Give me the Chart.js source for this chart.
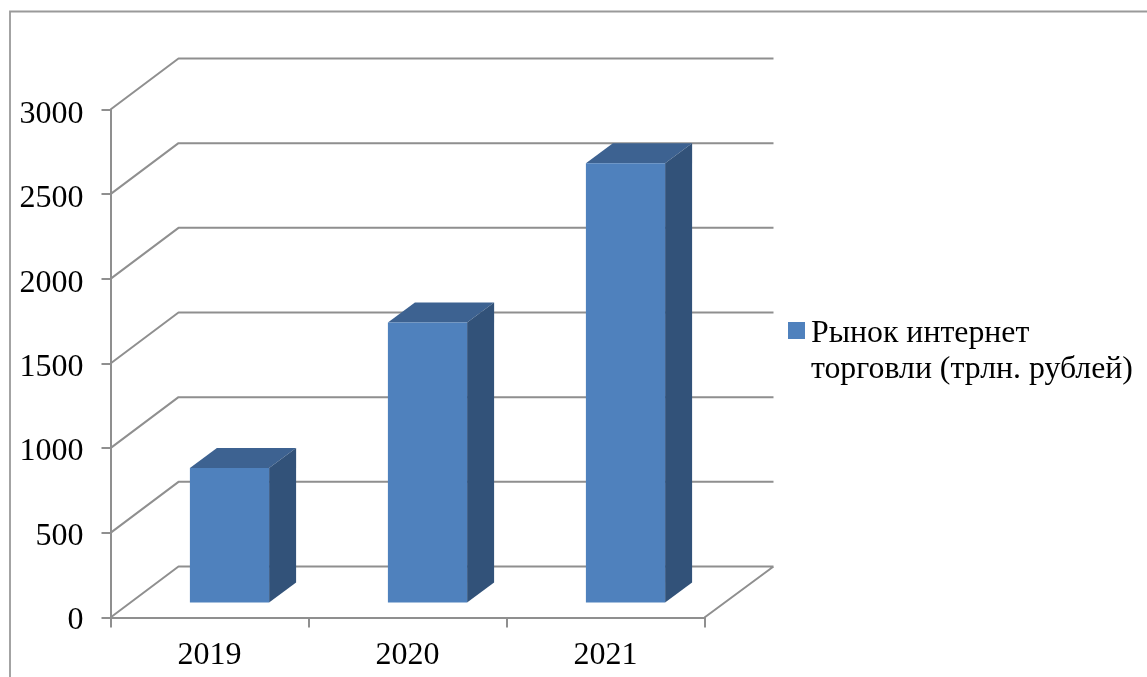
<!DOCTYPE html>
<html>
<head>
<meta charset="utf-8">
<style>
html,body{margin:0;padding:0;background:#fff;overflow:hidden}
#wrap{position:absolute;left:0;top:0;width:1147px;height:677px}
</style>
<script src="https://cdn.jsdelivr.net/npm/chart.js@4"></script>
</head>
<body>
<div id="wrap"><canvas id="c" width="1147" height="677"></canvas></div>
<script>
const categories = ['2019', '2020', '2021'];
const marketValues = [800, 1660, 2600];
const seriesName = 'Рынок интернет торговли (трлн. рублей)';
const legendLines = ['Рынок интернет', 'торговли (трлн. рублей)'];
const yMax = 3000;
const yStep = 500;

const FONT = '"Liberation Serif","Times New Roman",serif';
const GRID = '#8f8f8f';
const FRONT = '#4f81bd', SIDE = '#325279', TOP = '#3d6291';
const WALL_DX = 68, WALL_DY = 51;
const BAR_SHIFT_X = 20, BAR_SHIFT_Y = 14;
const DEPTH_X = 27, DEPTH_Y = 20;

const scene3d = {
  id: 'scene3d',
  beforeDraw(chart) {
    const c = chart.ctx;
    c.save();
    c.strokeStyle = '#9a9a9a';
    c.lineWidth = 1.8;
    c.beginPath();
    c.moveTo(10, 677); c.lineTo(10, 11.5); c.lineTo(1147, 11.5);
    c.stroke();
    c.restore();
    const y = chart.scales.y;
    y.getLabelItems().forEach((i, n) => {
      i.options.translation[1] += 3 + 2 * y.ticks[n].value / yMax;
    });
  },
  beforeDatasetsDraw(chart) {
    const c = chart.ctx, a = chart.chartArea, y = chart.scales.y;
    c.save();
    c.strokeStyle = GRID;
    c.lineWidth = 2;
    c.lineJoin = 'round';
    c.beginPath();
    y.ticks.forEach(t => {
      const py = y.getPixelForValue(t.value);
      c.moveTo(a.left, py);
      c.lineTo(a.left + WALL_DX, py - WALL_DY);
      c.lineTo(a.right + WALL_DX + 1, py - WALL_DY);
    });
    c.moveTo(a.right + WALL_DX + 1, a.bottom - WALL_DY);
    c.lineTo(a.right, a.bottom);
    c.stroke();
    c.restore();
  },
  beforeDatasetDraw(chart, args) {
    const c = chart.ctx;
    c.save();
    c.translate(BAR_SHIFT_X, -BAR_SHIFT_Y);
    args.meta.data.forEach(el => {
      const p = el.getProps(['x', 'y', 'base', 'width'], true);
      const l = p.x - p.width / 2, r = p.x + p.width / 2;
      c.fillStyle = TOP;
      c.beginPath();
      c.moveTo(l, p.y);
      c.lineTo(l + DEPTH_X, p.y - DEPTH_Y);
      c.lineTo(r + DEPTH_X, p.y - DEPTH_Y);
      c.lineTo(r, p.y);
      c.closePath();
      c.fill();
      c.fillStyle = SIDE;
      c.beginPath();
      c.moveTo(r, p.y);
      c.lineTo(r + DEPTH_X, p.y - DEPTH_Y);
      c.lineTo(r + DEPTH_X, p.base - DEPTH_Y);
      c.lineTo(r, p.base);
      c.closePath();
      c.fill();
    });
  },
  afterDatasetDraw(chart) {
    chart.ctx.restore();
  },
  afterDraw(chart) {
    const c = chart.ctx;
    c.save();
    c.fillStyle = FRONT;
    c.fillRect(788, 322, 17, 17);
    c.fillStyle = '#000';
    c.font = '31.8px ' + FONT;
    c.textBaseline = 'alphabetic';
    legendLines.forEach((s, i) => c.fillText(s, 811, 342 + i * 35.5));
    c.restore();
  }
};

new Chart(document.getElementById('c'), {
  type: 'bar',
  data: {
    labels: categories,
    datasets: [{
      label: seriesName,
      data: marketValues,
      backgroundColor: FRONT,
      borderWidth: 0,
      barPercentage: 0.4,
      categoryPercentage: 1,
      clip: false
    }]
  },
  options: {
    responsive: false,
    animation: false,
    devicePixelRatio: 1,
    layout: { padding: { top: 109.5, right: 442.5, left: 0, bottom: 0 } },
    plugins: { legend: { display: false }, tooltip: { enabled: false }, title: { display: false } },
    scales: {
      x: {
        afterFit(s) { s.height = 59.5; },
        grid: { drawOnChartArea: false, drawTicks: true, tickLength: 10, color: GRID, lineWidth: 2, offset: true },
        border: { color: GRID, width: 2 },
        ticks: { color: '#000', font: { family: FONT, size: 32 }, padding: 9, maxRotation: 0 }
      },
      y: {
        min: 0, max: yMax,
        afterFit(s) { s.width = 110.5; },
        grid: { drawOnChartArea: false, drawTicks: true, tickLength: 9, color: GRID, lineWidth: 2 },
        border: { color: GRID, width: 2 },
        ticks: { stepSize: yStep, color: '#000', font: { family: FONT, size: 32 }, padding: 18, callback: v => String(v) }
      }
    }
  },
  plugins: [scene3d]
});
</script>
</body>
</html>
